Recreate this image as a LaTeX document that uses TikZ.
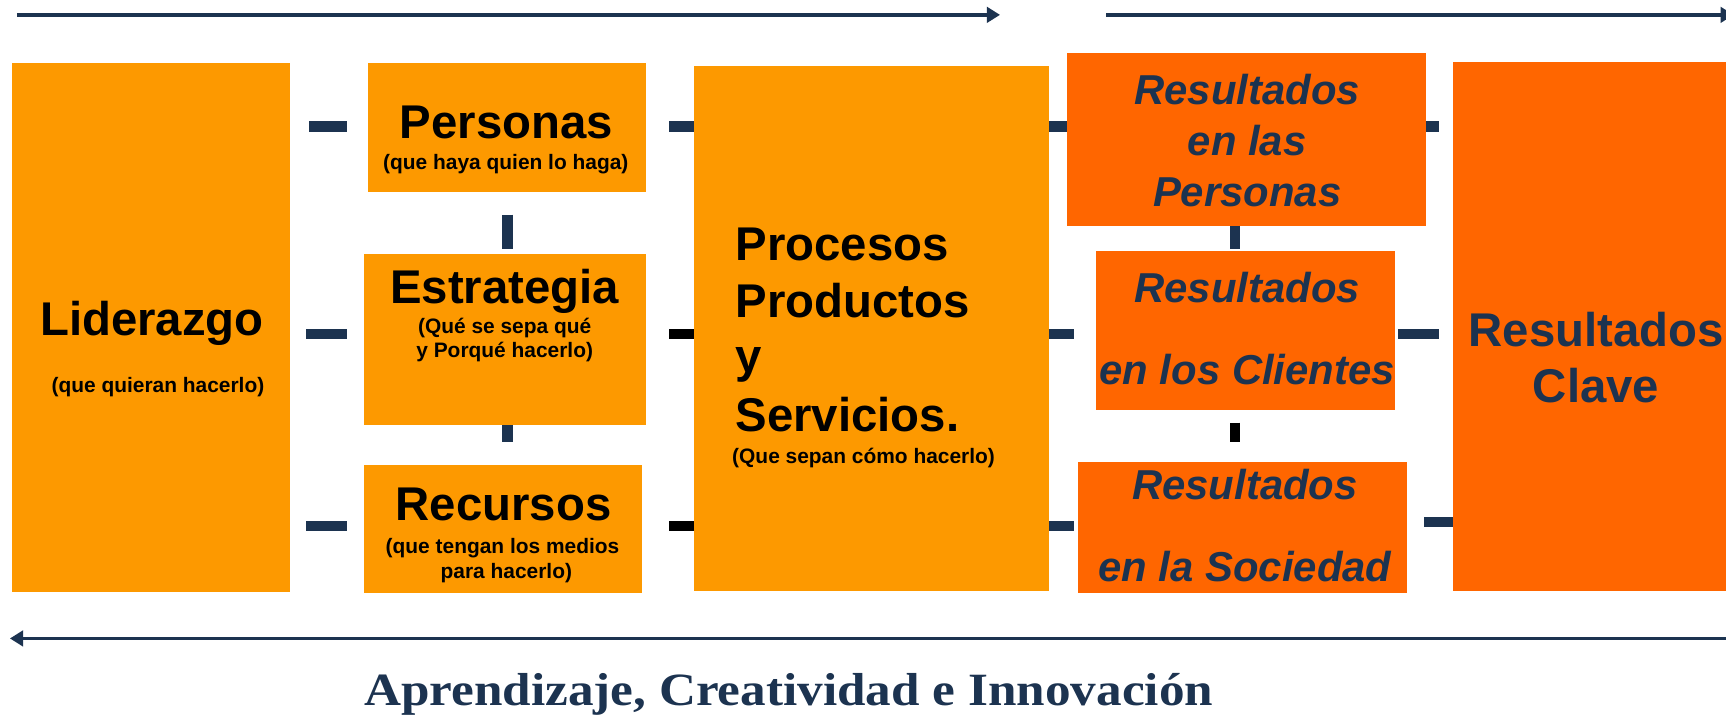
\documentclass[tikz,border=0pt]{standalone}
\usepackage{fontspec}
\setmainfont{Liberation Sans}
\newfontfamily\titlefont{Liberation Serif}
\usetikzlibrary{arrows.meta}
\definecolor{lor}{HTML}{FD9900}
\definecolor{dor}{HTML}{FF6600}
\definecolor{navy}{HTML}{1C3350}
\begin{document}
\begin{tikzpicture}[x=1pt,y=-1pt,
  box/.style={fill=#1,draw=none,inner sep=0pt,outer sep=0pt},
  stub/.style={line width=9.5pt,draw=navy},
  stubk/.style={line width=9.5pt,draw=black},
  flow/.style={line width=3pt,draw=navy,-{Triangle[length=12pt,width=14pt]}},
  big/.style={inner sep=0pt,anchor=base,font=\fontsize{43}{48}\selectfont\bfseries},
  small/.style={inner sep=0pt,anchor=base,font=\fontsize{19}{22}\selectfont\bfseries},
  res/.style={inner sep=0pt,anchor=base,text=navy,font=\fontsize{38}{44}\selectfont\bfseries\itshape},
  key/.style={inner sep=0pt,anchor=base,text=navy,font=\fontsize{43}{48}\selectfont\bfseries}]
\useasboundingbox (0,0) rectangle (1568,650);
% row / column reference coordinates
\coordinate (row1) at (0,115);
\coordinate (row2) at (0,303.5);
\coordinate (row3) at (0,478);
\coordinate (row3b) at (0,474.4);
\coordinate (colA) at (461,0);
\coordinate (colB) at (1122,0);
% boxes
\node[box=lor,minimum width=252.6pt,minimum height=480.5pt] (lid) at (137.3,297.25) {};
\node[box=lor,minimum width=253pt,minimum height=117pt] (pers) at (460.5,115.5) {};
\node[box=lor,minimum width=256.5pt,minimum height=155.3pt] (estr) at (458.75,308.35) {};
\node[box=lor,minimum width=252.5pt,minimum height=116.6pt] (recu) at (456.75,480.7) {};
\node[box=lor,minimum width=322.3pt,minimum height=476.6pt] (proc) at (791.65,298.3) {};
\node[box=dor,minimum width=325.9pt,minimum height=157.3pt] (rp) at (1132.55,126.65) {};
\node[box=dor,minimum width=271.5pt,minimum height=144.6pt] (rc) at (1131.75,300.3) {};
\node[box=dor,minimum width=298.5pt,minimum height=118.7pt] (rs) at (1128.75,479.15) {};
\node[box=dor,minimum width=260pt,minimum height=480.3pt] (clave) at (1450,296.45) {};
% stubs
\draw[stub,shorten <=17.4pt,shorten >=19pt] (lid.east |- row1) -- (pers.west |- row1);
\draw[stub,shorten <=14.4pt,shorten >=15.5pt] (lid.east |- row2) -- (estr.west |- row2);
\draw[stub,shorten <=14.4pt,shorten >=15.5pt] (lid.east |- row3) -- (recu.west |- row3);
\draw[stub,shorten <=21pt] (pers.east |- row1) -- (proc.west |- row1);
\draw[stubk,shorten <=21pt] (estr.east |- row2) -- (proc.west |- row2);
\draw[stubk,shorten <=25pt] (recu.east |- row3) -- (proc.west |- row3);
\draw[stub] (proc.east |- row1) -- (rp.west |- row1);
\draw[stub,shorten >=20pt] (proc.east |- row2) -- (rc.west |- row2);
\draw[stub,shorten >=3.5pt] (proc.east |- row3) -- (rs.west |- row3);
\draw[stub,shorten >=13pt] (rp.east |- row1) -- (clave.west |- row1);
\draw[stub,shorten <=2.5pt,shorten >=13pt] (rc.east |- row2) -- (clave.west |- row2);
\draw[stub,shorten <=16pt] (rs.east |- row3b) -- (clave.west |- row3b);
\draw[stub,shorten <=21pt,shorten >=4.2pt] (pers.south -| colA) -- (estr.north -| colA);
\draw[stub,shorten >=21pt] (estr.south -| colA) -- (recu.north -| colA);
\draw[stub,shorten >=1.5pt] (rp.south -| colB) -- (rc.north -| colB);
\draw[stubk,shorten <=11.4pt,shorten >=18.5pt] (rc.south -| colB) -- (rs.north -| colB);
% texts
\node[big] (tlid) at (138,304.4) {Liderazgo};
\node[small] (slid) at (143.5,357) {(que quieran hacerlo)};
\node[big] (tpers) at (460,125.7) {Personas};
\node[small] (spers) at (459.5,154.4) {(que haya quien lo haga)};
\node[big] (testr) at (458.5,276) {Estrategia};
\node[small] (sestr1) at (458.5,302.8) {(Qué se sepa qué};
\node[small] (sestr2) at (458.5,324.6) {y Porqué hacerlo)};
\node[big] (trecu) at (457.5,473) {Recursos};
\node[small] (srecu1) at (456.5,502.7) {(que tengan los medios};
\node[small] (srecu2) at (460,525.4) {para hacerlo)};
\node[big,anchor=base west] (tproc1) at (668,237) {Procesos};
\node[big,anchor=base west] (tproc2) at (668,288.3) {Productos};
\node[big,anchor=base west] (tproc3) at (668,338.7) {y};
\node[big,anchor=base west] (tproc4) at (668,392.2) {Servicios.};
\node[small,anchor=base west] (sproc) at (665,421.5) {(Que sepan cómo hacerlo)};
\node[res] (trp1) at (1133,94.5) {Resultados};
\node[res] (trp2) at (1133,141.7) {en las};
\node[res] (trp3) at (1133,187.8) {Personas};
\node[res] (trc1) at (1133,275) {Resultados};
\node[res] (trc2) at (1133,349) {en los Clientes};
\node[res] (trs1) at (1131,453.6) {Resultados};
\node[res] (trs2) at (1131,528.4) {en la Sociedad};
\node[key] (tk1) at (1450,314.4) {Resultados};
\node[key] (tk2) at (1450,365.8) {Clave};
% flow arrows
\coordinate (a1s) at (15.4,13.5);
\coordinate (a1e) at (908.5,13.5);
\coordinate (a2s) at (1005,13.5);
\coordinate (a2e) at (1575,13.5);
\coordinate (a3s) at (1585,580);
\coordinate (a3e) at (9,580);
\draw[flow] (a1s) -- (a1e);
\draw[flow] (a2s) -- (a2e);
\draw[flow] (a3s) -- (a3e);
\node[inner sep=0pt,anchor=base,text=navy] (title) at (716.5,640.5)
  {\scalebox{1.108}[1]{\titlefont\bfseries\fontsize{42}{48}\selectfont Aprendizaje, Creatividad e Innovación}};
\end{tikzpicture}
\end{document}
